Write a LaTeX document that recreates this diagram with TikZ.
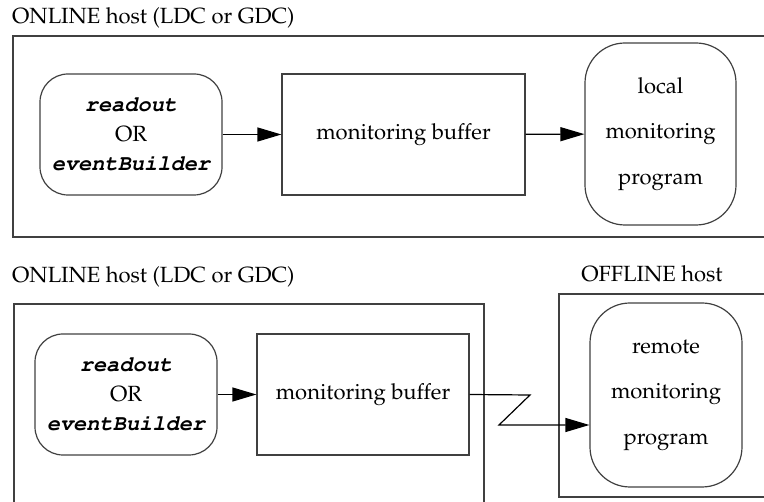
\documentclass[tikz,border=0pt]{standalone}
\usepackage[T1]{fontenc}
\usepackage{mathpazo}
\usepackage{courier}
\usetikzlibrary{arrows.meta}

\tikzset{
  frame/.style={draw=black!75, line width=1.2pt},
  proc/.style={draw=black!75, line width=1.2pt, rounded corners=28pt, align=center,
    font=\fontsize{22}{29.5}\selectfont, inner sep=0pt},
  prog/.style={draw=black!75, line width=1.2pt, rounded corners=40pt, align=center,
    font=\fontsize{22}{45.5}\selectfont, inner sep=0pt},
  bufbox/.style={draw=black!75, line width=1.2pt, align=center,
    font=\fontsize{22}{26}\selectfont, inner sep=0pt},
  hostlabel/.style={font=\fontsize{22}{26}\selectfont, inner sep=0pt},
  flow/.style={line width=1.2pt, -{Triangle[length=24pt,width=14pt]}},
}
\newcommand{\prg}[1]{{\ttfamily\bfseries\slshape #1}}

\begin{document}
\begin{tikzpicture}[x=1pt,y=-1pt]
  \useasboundingbox (0,0) rectangle (764,502);
  \clip (0,0) rectangle (764,502);

  % ---- upper scheme: local monitoring on the online host ----
  \node[hostlabel, anchor=base west] (lab1) at (12,24) {ONLINE host (LDC or GDC)};
  \draw[frame] (790,36) -- (13,36) -- (13,237) -- (790,237);

  \node[proc, minimum width=182pt, minimum height=121pt] (src1) at (131,134.5)
    {\prg{readout}\\OR\\\prg{eventBuilder}};
  \node[bufbox, minimum width=243pt, minimum height=121pt] (buf1) at (403.5,134.5)
    {monitoring buffer};
  \node[prog, minimum width=151pt, minimum height=182pt] (loc) at (660.5,134)
    {local\\monitoring\\program};

  \draw[flow] (src1) -- (buf1);
  \draw[flow] (buf1) -- (loc);

  % ---- lower scheme: remote monitoring on an offline host ----
  \node[hostlabel, anchor=base west] (lab2) at (12,283) {ONLINE host (LDC or GDC)};
  \draw[frame] (14,510) -- (14,304) -- (484,304) -- (484,510);

  \node[hostlabel, anchor=base] (lab3) at (652,282) {OFFLINE host};
  \draw[frame] (790,294) -- (559,294) -- (559,497) -- (790,497);

  \node[proc, minimum width=182pt, minimum height=121pt] (src2) at (126,394.5)
    {\prg{readout}\\OR\\\prg{eventBuilder}};
  \node[bufbox, minimum width=212pt, minimum height=121pt] (buf2) at (363,394.5)
    {monitoring buffer};
  \node[prog, minimum width=152pt, minimum height=184pt] (rem) at (666,395)
    {remote\\monitoring\\program};

  \draw[flow] (src2) -- (buf2);

  % network link drawn as a zigzag
  \coordinate (z1) at (530,395);
  \coordinate (z2) at (499,425);
  \draw[flow] (buf2.east) -- (z1) -- (z2) -- (z2 -| rem.west);
\end{tikzpicture}
\end{document}
